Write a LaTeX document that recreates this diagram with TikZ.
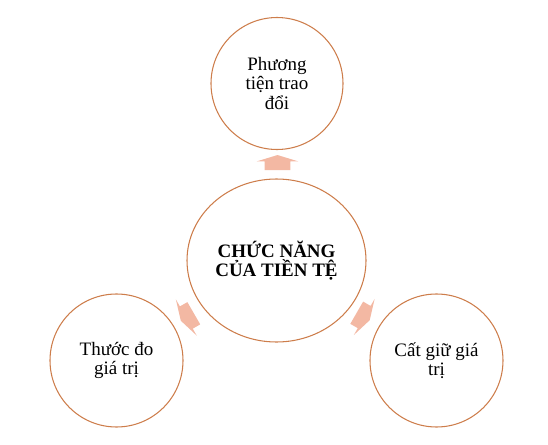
\documentclass[tikz,border=0pt]{standalone}
\usepackage{fontspec}
\setmainfont{Liberation Serif}
\usetikzlibrary{shapes.geometric,shapes.arrows}
\definecolor{ringline}{RGB}{205,125,75}
\definecolor{arrowfill}{RGB}{243,184,163}
\begin{document}
\begin{tikzpicture}[
        ring/.style={draw=ringline, line width=0.6pt, inner sep=0pt, align=center,
            font=\fontsize{10.8}{11.1}\selectfont},
        blockarrow/.style={single arrow, fill=arrowfill, draw=none, inner xsep=0pt,
            inner ysep=0.25cm, minimum height=0.30cm, single arrow head extend=0.16cm,
            single arrow tip angle=146, single arrow head indent=0pt}]
        \useasboundingbox (0,0) rectangle (10.96,8.88);
        \node [ring, ellipse, minimum width=3.58cm, minimum height=3.26cm,
            font=\fontsize{10.8}{11.1}\selectfont\bfseries] (core) at (5.53,3.67) {CHỨC NĂNG\\CỦA TIỀN TỆ};
        \node [ring, circle, minimum size=2.64cm] (exchange) at (5.54,7.21) {Phương\\tiện trao\\đổi};
        \node [ring, circle, minimum size=2.66cm] (measure) at (2.33,1.67) {Thước đo\\giá trị};
        \node [ring, circle, minimum size=2.66cm] (store) at (8.73,1.67) {Cất giữ giá\\trị};
        \node [blockarrow, rotate=90] (toexchange) at (5.55,5.59) {};
        \node [blockarrow, rotate=210] (tomeasure) at (3.78,2.56) {};
        \node [blockarrow, rotate=-30] (tostore) at (7.23,2.57) {};
        \end{tikzpicture}
\end{document}
